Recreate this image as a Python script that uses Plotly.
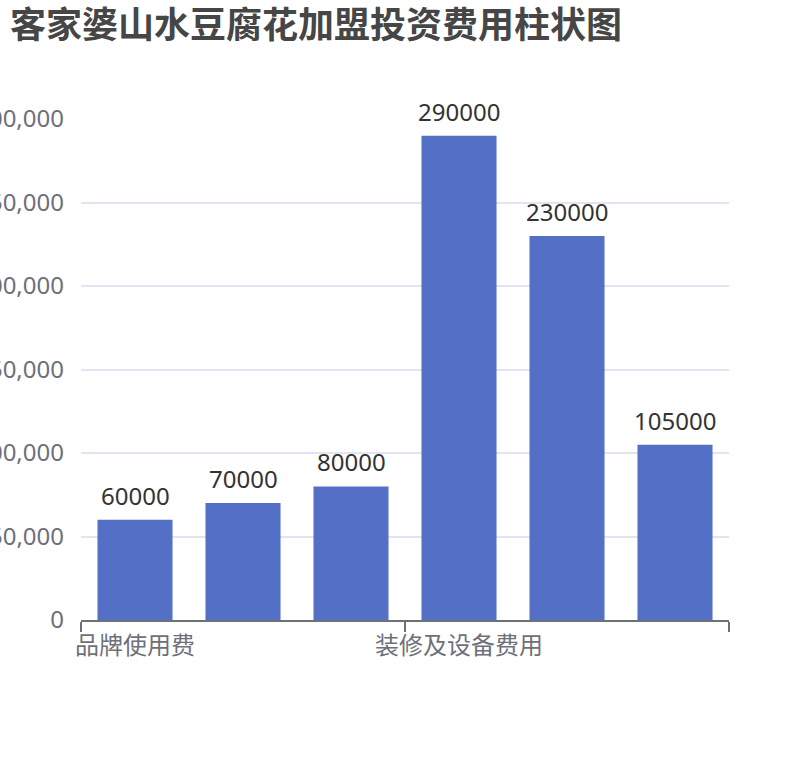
import plotly.graph_objects as go

# 加盟费用明细（第 2、3、5、6 项在原图中标签被隐藏）
categories = ["品牌使用费", "加盟管理费", "履约保证金", "装修及设备费用", "首批进货费", "流动资金"]
costs = [60000, 70000, 80000, 290000, 230000, 105000]
shown_labels = [0, 3]          # 只显示这两个类目的坐标轴标签
label_interval = 3

x_idx = list(range(len(categories)))
bar_color = "#5470C6"
axis_color = "#6E7079"
grid_color = "#E0E6F1"
font_family = "Noto Sans, Noto Sans CJK SC, sans-serif"

fig = go.Figure()
fig.add_trace(go.Bar(
    x=x_idx,
    y=costs,
    marker=dict(color=bar_color, line=dict(width=0)),
    hovertext=categories,
))

# 数值标签放在柱子上方
for i, v in zip(x_idx, costs):
    fig.add_annotation(
        x=i, y=v, text=str(v), showarrow=False,
        yanchor="bottom", yshift=6,
        font=dict(size=24, color="#333333", family=font_family),
    )

boundaries = [i - 0.5 for i in range(0, len(categories) + 1, label_interval)]

fig.update_layout(
    width=810, height=760,
    margin=dict(l=81, r=81, t=119, b=140),
    plot_bgcolor="white", paper_bgcolor="white",
    bargap=0.305,
    showlegend=False,
    font=dict(family=font_family),
    title=dict(
        text="<b>客家婆山水豆腐花加盟投资费用柱状图</b>",
        x=10 / 810, xref="container", xanchor="left",
        y=1 - 25 / 760, yref="container", yanchor="middle",
        pad=dict(l=0),
        font=dict(size=36, color="#464646", family="Noto Sans CJK SC, sans-serif"),
    ),
    xaxis=dict(
        range=[-0.5, len(categories) - 0.5],
        tickmode="array",
        tickvals=[x_idx[i] for i in shown_labels],
        ticktext=[categories[i] for i in shown_labels],
        ticks="",
        ticklabelstandoff=3,
        tickfont=dict(size=24, color=axis_color),
        showline=True, linecolor=axis_color, linewidth=2,
        showgrid=False, zeroline=False,
        minor=dict(tickmode="array", tickvals=boundaries, ticks="outside",
                   ticklen=10, tickwidth=2, tickcolor=axis_color, showgrid=False),
    ),
    yaxis=dict(
        range=[0, 300000], dtick=50000, tickformat=",",
        tickfont=dict(size=24, color=axis_color),
        ticklabelstandoff=16,
        showgrid=True, gridcolor=grid_color, gridwidth=2,
        zeroline=False, showline=False, automargin=False,
    ),
)
fig.update_xaxes(automargin=False)

# 去掉页面默认的 body 边距，让图表贴齐窗口左上角；不显示工具栏
fig.write_html(
    "out.html",
    config={"displayModeBar": False},
    post_script="document.body.style.margin = '0';",
)
